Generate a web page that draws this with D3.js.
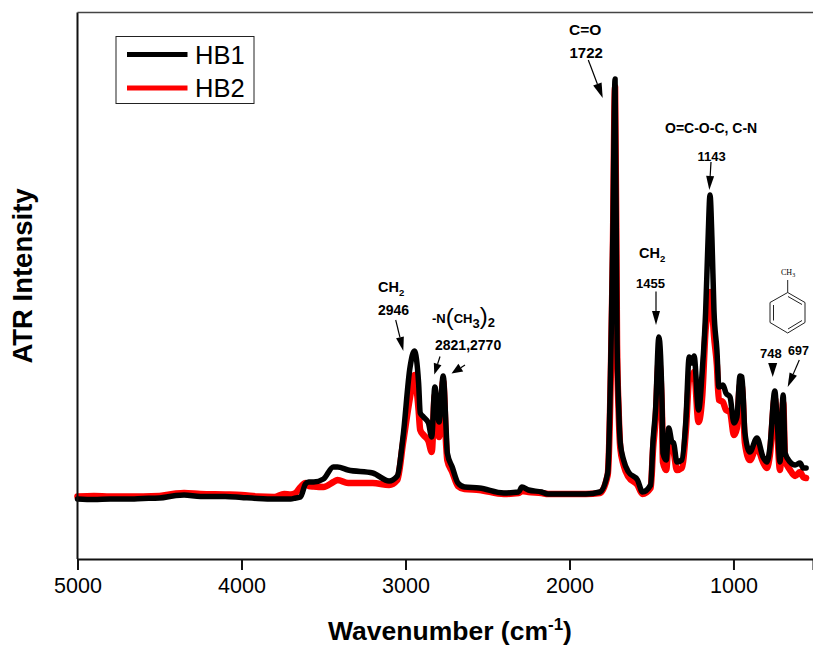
<!DOCTYPE html>
<html>
<head>
<meta charset="utf-8">
<script src="https://cdn.jsdelivr.net/npm/d3@7"></script>
<style>
  html, body { margin: 0; padding: 0; background: #fff; }
  svg { display: block; }
  text { font-family: "Liberation Sans", Arial, sans-serif; fill: #000; }
  .note { font-weight: bold; font-size: 13.5px; }
</style>
</head>
<body>
<div id="chart"></div>
<script>
// intensity is in arbitrary units
const wavenumber = [5000,4900,4800,4700,4600,4500,4400,4350,4250,4100,4000,3900,3800,3740,3700,3670,3640,3610,3590,3560,3500,3440,3415,3350,3200,3100,3050,3015,2972,2946,2920,2910,2890,2860,2840,2821,2795,2770,2752,2745,2715,2680,2640,2550,2400,2310,2290,2250,2170,2130,1900,1815,1767,1736,1722,1710,1700,1690,1670,1640,1585,1555,1505,1490,1475,1455,1435,1430,1410,1395,1375,1365,1345,1315,1290,1270,1255,1240,1213,1190,1170,1155,1143,1131,1119,1101,1089,1064,1046,1021,997,979,960,948,930,900,857,820,796,778,748,735,716,697,685,655,624,594,575,557];
const hb1 = [60,59.5,60,60,60.5,61,63.5,64,62.5,62.5,61.5,60.5,60,60,60,61,62,75,77,77,80,92,92,89,86,78,83,122,192,208,176,146,142,136,122,172,137,183,129,106,92,76,72,71,66,67,72,69,67,65,65,67,86,319,480,219,152,116,99,87,79,67,74,119,149,222,152,106,99,131,117,116,97,99,139,202,196,203,149,189,246,319,364,319,249,209,172,174,166,162,136,142,183,182,126,107,121,102,97,111,168,142,97,164,106,97,94,96,91,91];
const hb2 = [62.5,63,62.5,62.5,62.5,63,65.5,66,65,64.5,64,62.5,62,65,64.5,66,72,76,73,72.5,72,77,79,76,76,74,79,116,162,184,149,129,124,118,107,164,122,178,114,99,87,73,70,69,65,66,68,67,66,65,65,66,84,299,472,214,147,111,94,82,74,65,71,111,139,199,139,97,89,119,109,107,89,91,129,179,181,187,137,164,229,249,267,254,224,194,159,157,149,147,124,131,174,172,116,99,112,97,91,104,161,134,89,157,99,89,83,87,82,81];
const xTicks = [5000,4000,3000,2000,1000];
const seriesNames = ["HB1","HB2"];
const seriesColors = ["#000","#f00"];

const width = 813, height = 646;
const margin = {top: 12.5, right: 0, bottom: 87, left: 77.5};

let svg = d3.select("#chart").append("svg")
    .attr("width", width)
    .attr("height", height);

let x = d3.scaleLinear()
    .domain([5000, 515])
    .range([margin.left, width - margin.right]);

let y = d3.scaleLinear()
    .domain([0, 546.5])
    .range([height - margin.bottom, margin.top]);

function drawSeries(values, color, sw){
    let line = d3.line()
        .x((d, i) => x(wavenumber[i]))
        .y(d => y(d))
        .curve(d3.curveMonotoneX);
    svg.append("path")
        .datum(values)
        .attr("fill", "none")
        .attr("stroke", color)
        .attr("stroke-width", sw)
        .attr("stroke-linejoin", "round")
        .attr("stroke-linecap", "round")
        .attr("d", line);
}
drawSeries(hb2, seriesColors[1], 6.5);
drawSeries(hb1, seriesColors[0], 5.5);

// frame
let xAxis = d3.axisBottom(x)
    .tickValues(xTicks)
    .tickFormat(d3.format("d"))
    .tickSize(11)
    .tickPadding(8);

let xAxisGroup = svg.append("g")
    .attr("transform", "translate(0," + (height - margin.bottom) + ")")
    .call(xAxis);
xAxisGroup.selectAll("line").attr("stroke", "#111").attr("stroke-width", 2);
xAxisGroup.selectAll("text").style("font-size", "21.5px").attr("fill", "#111");
xAxisGroup.select(".domain").attr("stroke", "#111").attr("stroke-width", 2);

svg.append("line")
    .attr("x1", margin.left).attr("x2", margin.left)
    .attr("y1", margin.top).attr("y2", height - margin.bottom)
    .attr("stroke", "#111").attr("stroke-width", 2);
svg.append("line")
    .attr("x1", margin.left).attr("x2", width)
    .attr("y1", margin.top).attr("y2", margin.top)
    .attr("stroke", "#444").attr("stroke-width", 1.5);

// axis titles
let xTitle = svg.append("text")
    .attr("x", 450).attr("y", 640)
    .attr("text-anchor", "middle")
    .style("font-size", "26.5px").style("font-weight", "bold");
xTitle.append("tspan").text("Wavenumber (cm");
xTitle.append("tspan").text("-1").attr("dy", -10).style("font-size", "17px");
xTitle.append("tspan").text(")").attr("dy", 10);

svg.append("text")
    .attr("transform", "translate(32,276) rotate(-90)")
    .attr("text-anchor", "middle")
    .style("font-size", "27.5px").style("font-weight", "bold")
    .text("ATR Intensity");

// legend
let legend = svg.append("g");
legend.append("rect")
    .attr("x", 116).attr("y", 36.5).attr("width", 138).attr("height", 67)
    .attr("fill", "#fff").attr("stroke", "#222").attr("stroke-width", 1);
seriesNames.forEach((name, i) => {
    let ly = 54.5 + i * 33.5;
    legend.append("line")
        .attr("x1", 127).attr("x2", 187.5).attr("y1", ly).attr("y2", ly)
        .attr("stroke", seriesColors[i]).attr("stroke-width", 5);
    legend.append("text")
        .attr("x", 195).attr("y", ly + 9)
        .style("font-size", "25.5px")
        .text(name);
});

// peak notes
function note(tx, ty, str, size){
    let t = svg.append("text").attr("class", "note").attr("x", tx).attr("y", ty).text(str);
    if (size) t.style("font-size", size + "px");
    return t;
}
function ch2(tx, ty){
    let t = note(tx, ty, "CH", 14.5);
    t.append("tspan").text("2").attr("dy", 4).style("font-size", "9.5px");
}
ch2(378, 292);
note(378, 315, "2946", 14);
note(435, 350, "2821,2770", 14);
ch2(639, 258);
note(636, 288, "1455", 13);
note(569, 35, "C=O", 15.5);
note(569.5, 57.5, "1722", 15);
note(665, 132.5, "O=C-O-C, C-N", 14);
note(697.5, 160.5, "1143", 13);
note(760, 358, "748", 13);
note(788, 355, "697", 12.5);

let nch = note(432, 323, "-N", 13);
nch.append("tspan").text("(").style("font-size", "24px").style("font-weight", "normal").attr("dy", 2);
nch.append("tspan").text("CH").attr("dy", -2).style("font-size", "13px");
nch.append("tspan").text("3").attr("dy", 5).style("font-size", "13px");
nch.append("tspan").text(")").style("font-size", "24px").style("font-weight", "normal").attr("dy", -4);
nch.append("tspan").text("2").attr("dy", 3).style("font-size", "13px");

// arrows, from tail to tip
function arrow(x1, y1, x2, y2, headLen, headWidth){
    let a = Math.atan2(y2 - y1, x2 - x1);
    let bx = x2 - headLen * Math.cos(a), by = y2 - headLen * Math.sin(a);
    let nx = -Math.sin(a) * headWidth / 2, ny = Math.cos(a) * headWidth / 2;
    svg.append("line")
        .attr("x1", x1).attr("y1", y1).attr("x2", bx).attr("y2", by)
        .attr("stroke", "#000").attr("stroke-width", 1.2);
    svg.append("path")
        .attr("d", d3.line()([[x2, y2], [bx + nx, by + ny], [bx - nx, by - ny]]) + "Z")
        .attr("fill", "#000");
}
arrow(395.7, 320, 403.3, 351, 14, 8);
arrow(440, 356.5, 434.3, 374.5, 11, 8);
arrow(465, 365, 451.5, 373.5, 11, 9);
arrow(588.3, 60, 602.7, 98, 15, 9);
arrow(711, 162, 709.3, 190, 14, 8);
arrow(656, 291.5, 656, 325, 14, 8);
arrow(772.7, 363, 772.7, 377, 14, 9);
arrow(799.3, 360, 787.7, 387, 14, 8);

// toluene sketch
let ring = svg.append("g").attr("stroke", "#222").attr("stroke-width", 1).attr("fill", "none");
let ringPts = [[787.7,292.5],[805,302.5],[805,322.5],[787.7,333],[770,322.5],[770,302.5]];
ring.append("path").attr("d", d3.line()(ringPts) + "Z");
ring.append("path").attr("d", "M787.7,280V292.5M773.5,305V320.5M788,296.5L802,304.5M788,329L802,320.5");
svg.append("text")
    .attr("x", 781).attr("y", 275)
    .style("font-family", "Liberation Serif, serif")
    .style("font-size", "8px")
    .attr("fill", "#222")
    .html('CH<tspan dy="1.5" font-size="6">3</tspan>');
</script>
</body>
</html>
